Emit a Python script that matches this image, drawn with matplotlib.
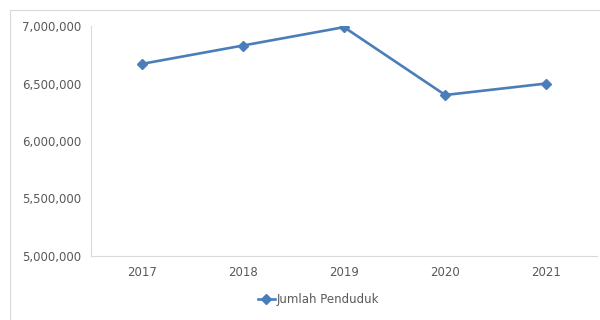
import matplotlib.pyplot as plt
from matplotlib.patches import Rectangle
from matplotlib.ticker import FuncFormatter

years = ['2017', '2018', '2019', '2020', '2021']
penduduk = [6670000, 6830000, 6990000, 6400000, 6500000]

grey = '#595959'
blue = '#4a7ebb'

fig = plt.figure(figsize=(6, 3.2), dpi=100)
fig.patches.append(Rectangle((10 / 600, -0.1), 1.0, 1 - 10 / 320 + 0.1,
                             transform=fig.transFigure, fill=False,
                             edgecolor='#d9d9d9', linewidth=0.8))

ax = fig.add_axes([91 / 600, 64 / 320, 506 / 600, 230 / 320])
x = range(len(years))
ax.plot(x, penduduk, color=blue, linewidth=1.9, marker='D', markersize=5.5,
        label='Jumlah Penduduk')

ax.set_xlim(-0.5, len(years) - 0.5)
ax.set_ylim(5000000, 7000000)
ax.set_yticks(range(5000000, 7000001, 500000))
ax.yaxis.set_major_formatter(FuncFormatter(lambda v, p: f'{int(v):,}'))
ax.set_xticks(list(x))
ax.set_xticklabels(years)

for s in ['top', 'right']:
    ax.spines[s].set_visible(False)
for s in ['left', 'bottom']:
    ax.spines[s].set_color('#d9d9d9')
    ax.spines[s].set_linewidth(0.8)
ax.tick_params(length=0, colors=grey, labelsize=8.5)
ax.tick_params(axis='y', pad=7)
ax.tick_params(axis='x', pad=7)

ax.legend(loc='center', bbox_to_anchor=(0.45, -0.19), frameon=False,
          fontsize=8.5, labelcolor=grey, handlelength=1.4, handletextpad=0.2)

fig.savefig('out.png', dpi=100)
